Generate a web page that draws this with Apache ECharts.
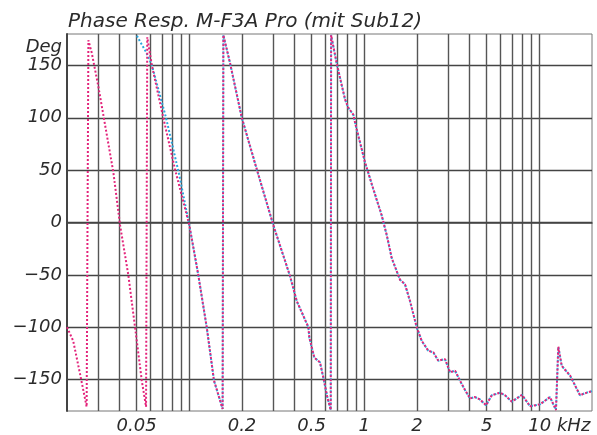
<!DOCTYPE html>
<html>
<head>
<meta charset="utf-8">
<script src="https://cdn.jsdelivr.net/npm/echarts@6/dist/echarts.min.js"></script>
<style>
html,body{margin:0;padding:0;background:#fff;}
#chart{width:597px;height:435px;}
</style>
</head>
<body>
<div id="chart"></div>
<script>
// Title and axis texts
const chartTitle = 'Phase Resp. M-F3A Pro (mit Sub12)';
const yUnit = 'Deg';
const xUnit = 'kHz';

// X grid values (kHz) and labelled ticks
const gridFreqs = [0.03,0.04,0.05,0.06,0.07,0.08,0.09,0.1,0.2,0.3,0.4,0.5,0.6,0.7,0.8,0.9,1,2,3,4,5,6,7,8,9,10];
const xTickLabels = [0.05,0.2,0.5,1,2,5,10];
const yTicks = [-150,-100,-50,0,50,100,150];

// Magenta series (frequency in kHz, phase in degrees)
const magFreq = [0.020,0.0217,0.0237,0.0259,0.0265,0.0277,0.0302,0.0368,0.0402,0.0448,0.0501,0.0535,0.0566,
  0.0575,0.0610,0.0710,0.0828,0.100,0.1125,0.1257,0.1384,0.155,
  0.1565,0.171,0.1995,0.2427,0.302,0.376,0.411,0.479,0.485,0.518,0.558,0.583,0.615,0.643,
  0.646,0.695,0.776,0.810,0.865,0.885,1.009,1.125,1.256,1.343,1.434,1.599,1.708,1.824,1.992,
  2.128,2.321,2.479,2.648,2.892,3.09,3.30,3.52,3.76,4.02,4.29,4.58,4.96,5.35,5.96,6.37,6.95,7.43,7.96,
  8.85,10.1,11.5,12.45,12.84,13.43,14.97,17.08,18.25,20];
const magPhase = [-100,-113,-144,-176,174,162,130,48,-2.5,-50,-113,-151,-176,
  177,150.6,100,51,-2.5,-50,-100,-151,-178,
  179,152,100,51,-2.5,-51,-75,-100,-110,-129,-133.5,-148,-167,-179,
  179,152,117.5,109.6,103,95.4,57.5,32,7,-12,-34,-54.6,-59,-75,-100,
  -113,-122.5,-124,-132,-130.5,-143,-141.5,-151,-160,-168,-166.7,-169,-174.5,-165,-162.5,-165,-171,-168,-164.5,
  -175.5,-173.6,-166.7,-179,-118.6,-137,-146,-165,-163,-161];

// Cyan series
const cyanFreq = [0.0496,0.0523,0.0565,0.0610,0.0736,0.0877,0.100,0.1125,0.1257,0.1384,0.155,
  0.1565,0.171,0.1995,0.2427,0.302,0.376,0.411,0.479,0.485,0.518,0.558,0.583,0.615,0.643,
  0.646,0.695,0.776,0.810,0.865,0.885,1.009,1.125,1.256,1.343,1.434,1.599,1.708,1.824,1.992,
  2.128,2.321,2.479,2.648,2.892,3.09,3.30,3.52,3.76,4.02,4.29,4.58,4.96,5.35,5.96,6.37,6.95,7.43,7.96,
  8.85,10.1,11.5,12.45,12.84,13.43,14.97,17.08,18.25,20];
const cyanPhase = [180,172.7,163,150.6,100,45,-2.5,-50,-100,-151,-178,
  179,152,100,51,-2.5,-51,-75,-100,-110,-129,-133.5,-148,-167,-179,
  179,152,117.5,109.6,103,95.4,57.5,32,7,-12,-34,-54.6,-59,-75,-100,
  -113,-122.5,-124,-132,-130.5,-143,-141.5,-151,-160,-168,-166.7,-169,-174.5,-165,-162.5,-165,-171,-168,-164.5,
  -175.5,-173.6,-166.7,-179,-118.6,-137,-146,-165,-163,-161];

const pair = (f, p) => f.map((v, i) => [v, p[i]]);

const FONT = 'DejaVu Sans';
const TXT = '#2b2b2b';

const chart = echarts.init(document.getElementById('chart'), null, {renderer: 'canvas'});
chart.setOption({
  animation: false,
  backgroundColor: '#fff',
  title: {
    text: chartTitle,
    left: 63, top: 7,
    textStyle: {fontFamily: FONT, fontStyle: 'italic', fontWeight: 'normal', fontSize: 20, color: TXT}
  },
  grid: {left: 67, right: 5, top: 34, bottom: 21, show: true, borderColor: '#777', borderWidth: 1, backgroundColor: '#fff'},
  xAxis: {
    type: 'log', logBase: 10, min: 0.02, max: 20,
    axisLine: {show: true, lineStyle: {color: '#444', width: 1.5}},
    axisTick: {show: false, customValues: gridFreqs},
    minorTick: {show: false},
    splitLine: {show: true, lineStyle: {color: '#555', width: 1.4}},
    axisLabel: {
      customValues: xTickLabels,
      margin: 6,
      fontFamily: FONT, fontStyle: 'italic', fontSize: 18, color: TXT,
      formatter: v => (Math.abs(v - 10) < 1e-9 ? '{u|' + '10 ' + xUnit + '}' : String(v)),
      rich: {u: {fontFamily: FONT, fontStyle: 'italic', fontSize: 18, color: TXT, padding: [0, 0, 0, 40]}}
    }
  },
  yAxis: {
    type: 'value', min: -180, max: 180,
    name: yUnit, nameLocation: 'end', nameGap: -16,
    nameTextStyle: {fontFamily: FONT, fontStyle: 'italic', fontSize: 18, color: TXT, align: 'right', verticalAlign: 'middle', padding: [0, 5, 0, 0]},
    axisLine: {show: true, lineStyle: {color: '#444', width: 2}},
    axisTick: {show: false, customValues: yTicks},
    splitLine: {show: true, lineStyle: {color: '#444', width: 1.4}},
    axisLabel: {
      customValues: yTicks, margin: 5, fontFamily: FONT, fontStyle: 'italic', fontSize: 18, color: TXT,
      formatter: v => String(v).replace('-', '\u2212')
    }
  },
  series: [
    {
      type: 'line', data: pair(cyanFreq, cyanPhase), showSymbol: false, symbol: 'none',
      lineStyle: {color: '#2aa6de', width: 2, type: [2, 2], dashOffset: 2}
    },
    {
      type: 'line', data: pair(magFreq, magPhase), showSymbol: false, symbol: 'none',
      lineStyle: {color: '#e3247b', width: 2, type: [2, 2], dashOffset: 0}
    }
  ]
});
</script>
</body>
</html>
